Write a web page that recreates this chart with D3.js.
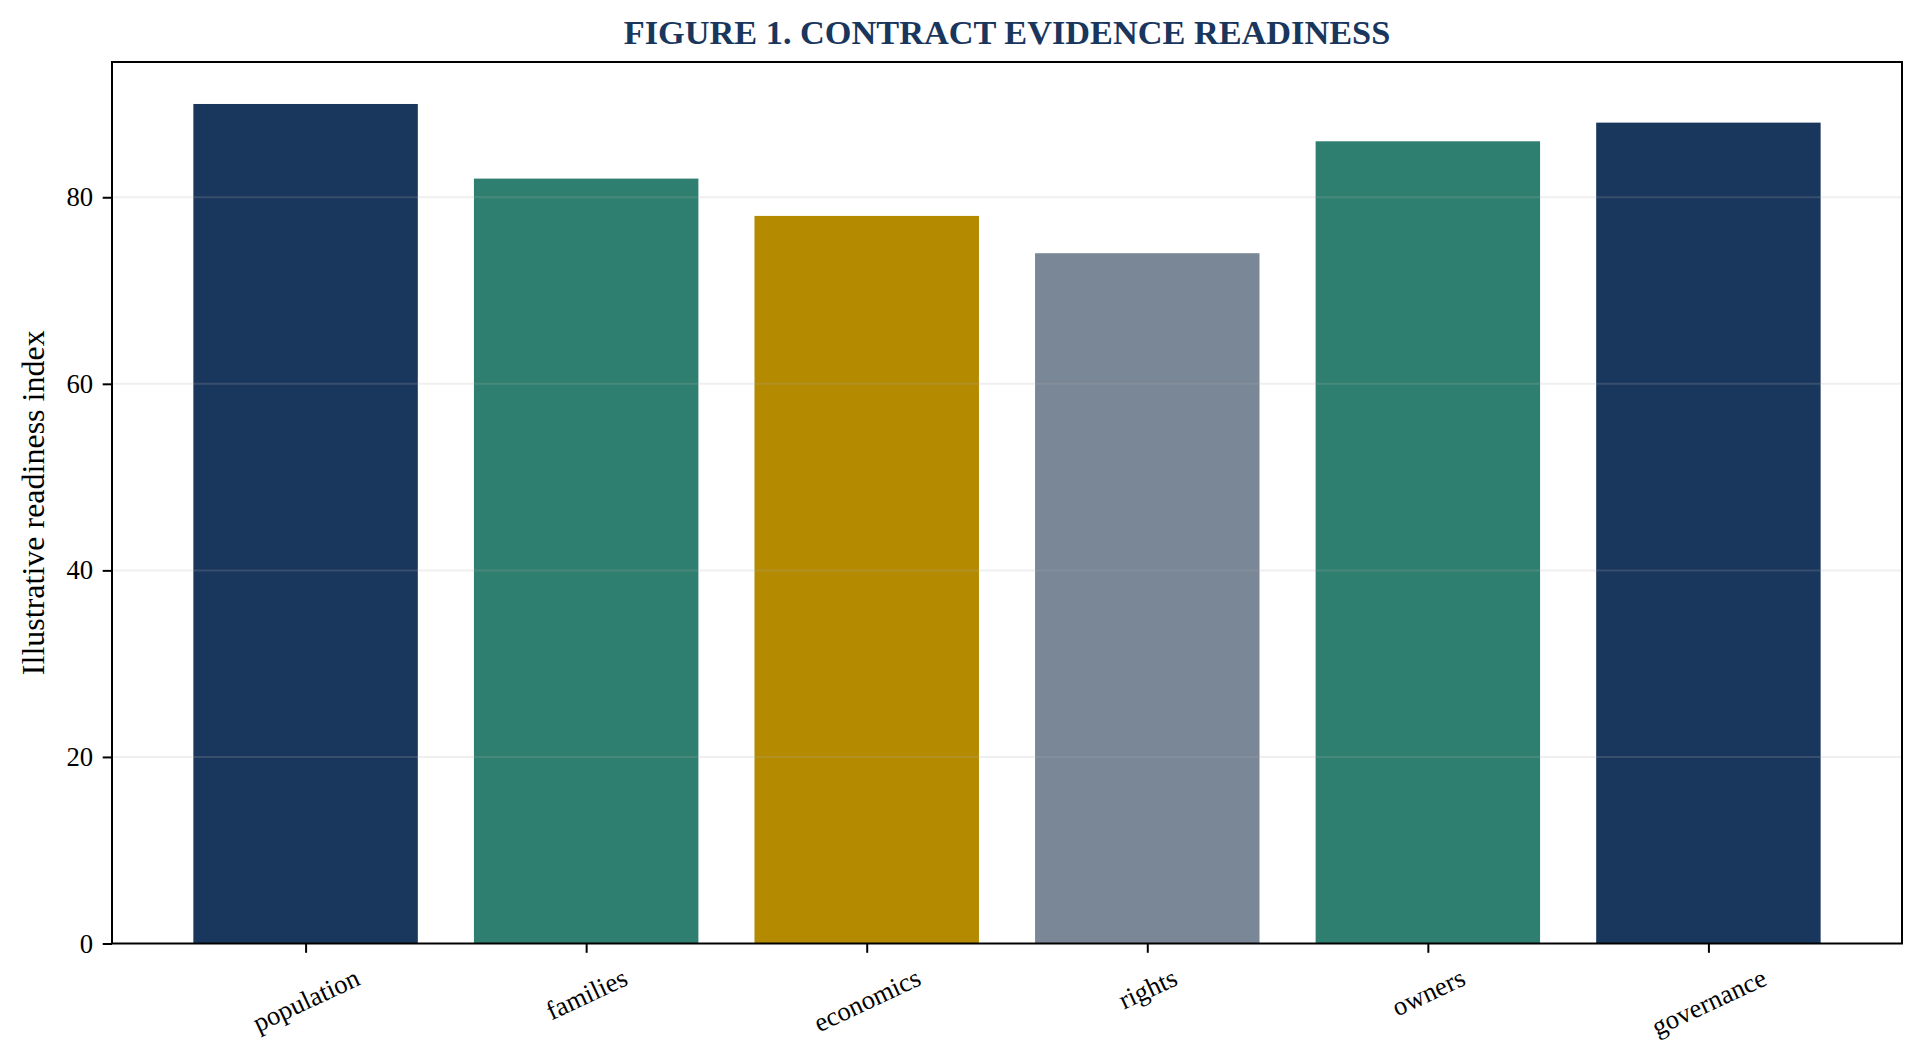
<!DOCTYPE html>
<html>
<head>
<meta charset="utf-8">
<script src="https://cdn.jsdelivr.net/npm/d3@7"></script>
<style>
  html, body { margin: 0; padding: 0; background: #ffffff; }
  svg { display: block; }
  text { font-family: "Liberation Serif", "Times New Roman", serif; }
</style>
</head>
<body>
<svg id="chart" width="1924" height="1058"></svg>
<script>
const categories = ["population", "families", "economics", "rights", "owners", "governance"];
const values = [90, 82, 78, 74, 86, 88];
const barColors = ["#19365D", "#2E7F6F", "#B38A00", "#7A8796", "#2E7F6F", "#19365D"];
const yTicks = [0, 20, 40, 60, 80];
const titleText = "FIGURE 1. CONTRACT EVIDENCE READINESS";
const yLabelText = "Illustrative readiness index";

const W = 1924, H = 1058;
const plot = { left: 112, right: 1902, top: 62, bottom: 943.5 };
const svg = d3.select("#chart");

const x = d3.scaleLinear().domain([-0.69, 5.69]).range([plot.left, plot.right]);
const y = d3.scaleLinear().domain([0, 94.5]).range([plot.bottom, plot.top]);
const barW = 0.8;

// bars
svg.append("g").selectAll("rect").data(values).join("rect")
  .attr("x", (d, i) => x(i - barW / 2))
  .attr("width", (d, i) => x(i + barW / 2) - x(i - barW / 2))
  .attr("y", d => y(d))
  .attr("height", d => y(0) - y(d))
  .attr("fill", (d, i) => barColors[i]);

// grid (over bars, translucent)
svg.append("g").selectAll("line").data(yTicks.filter(t => t > 0)).join("line")
  .attr("x1", plot.left).attr("x2", plot.right)
  .attr("y1", d => y(d)).attr("y2", d => y(d))
  .attr("stroke", "#b0b0b0").attr("stroke-opacity", 0.2).attr("stroke-width", 2);

// y axis
const yAxis = d3.axisLeft(y).tickValues(yTicks).tickSize(9.3).tickPadding(9.5);
const gy = svg.append("g").attr("transform", `translate(${plot.left},0)`).call(yAxis);
gy.select(".domain").remove();
gy.selectAll(".tick line").attr("stroke", "#000").attr("stroke-width", 2);
gy.selectAll(".tick text").attr("font-size", 26.7).attr("fill", "#000")
  .attr("font-family", "'Liberation Serif', serif");

// x axis
const xAxis = d3.axisBottom(x).tickValues(d3.range(categories.length)).tickSize(9.3).tickFormat(i => categories[i]);
const gx = svg.append("g").attr("transform", `translate(0,${plot.bottom})`).call(xAxis);
gx.select(".domain").remove();
gx.selectAll(".tick line").attr("stroke", "#000").attr("stroke-width", 2);
gx.selectAll(".tick text")
  .attr("font-size", 26.7).attr("fill", "#000")
  .attr("font-family", "'Liberation Serif', serif")
  .attr("text-anchor", "middle")
  .attr("dy", null)
  .attr("dominant-baseline", "central")
  .each(function() {
    const t = d3.select(this);
    const L = this.getComputedTextLength();
    const h = 26.7 * 1.15;
    const a = 25 * Math.PI / 180;
    const bh = L * Math.sin(a) + h * Math.cos(a);
    const top = 9.3 + 9.3;
    t.attr("y", null).attr("transform", `translate(0,${top + bh / 2}) rotate(-25)`);
  });

// frame
svg.append("rect")
  .attr("x", plot.left).attr("y", plot.top)
  .attr("width", plot.right - plot.left).attr("height", plot.bottom - plot.top)
  .attr("fill", "none").attr("stroke", "#000").attr("stroke-width", 2);

// y label
svg.append("text")
  .attr("transform", `translate(43.5,${(plot.top + plot.bottom) / 2}) rotate(-90)`)
  .attr("text-anchor", "middle")
  .attr("font-size", 32).attr("fill", "#000")
  .text(yLabelText);

// title
svg.append("text")
  .attr("x", (plot.left + plot.right) / 2).attr("y", 44.3)
  .attr("text-anchor", "middle")
  .attr("font-size", 34.3).attr("font-weight", "bold").attr("fill", "#19365D")
  .text(titleText);
</script>
</body>
</html>
